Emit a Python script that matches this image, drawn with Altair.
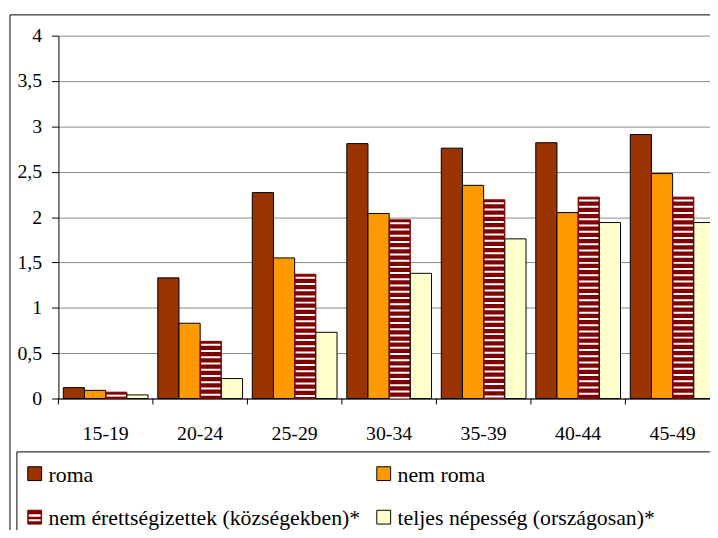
import altair as alt
import pandas as pd

# ---- data ----
ages = ["15-19", "20-24", "25-29", "30-34", "35-39", "40-44", "45-49"]
series = [
    "roma",
    "nem roma",
    "nem érettségizettek (községekben)*",
    "teljes népesség (országosan)*",
]
roma = [0.12, 1.33, 2.27, 2.81, 2.76, 2.82, 2.91]
nem_roma = [0.09, 0.83, 1.55, 2.04, 2.35, 2.05, 2.48]
nem_erett = [0.07, 0.63, 1.37, 1.97, 2.19, 2.22, 2.22]
teljes = [0.04, 0.22, 0.73, 1.38, 1.76, 1.94, 1.94]
y_ticks = [0, 0.5, 1, 1.5, 2, 2.5, 3, 3.5, 4]
colors = ["#993300", "#FF9900", "#800000", "#FFFFCC"]

values_by_series = [roma, nem_roma, nem_erett, teljes]
rows = []
for s, vals in zip(series, values_by_series):
    for a, v in zip(ages, vals):
        rows.append({"age": a, "series": s, "value": v})
df = pd.DataFrame(rows)
ages_df = pd.DataFrame({"age": ages})
leg_df = pd.DataFrame({"series": series, "i": list(range(len(series)))})

STRIPED = series[2]
FONT = ("Liberation Serif, Tinos, Noto Serif, Nimbus Roman, FreeSerif, "
        "DejaVu Serif, Times New Roman, serif")
H = 367
VIEW_W = 659
BAND_RANGE = 669

x_scale = alt.Scale(domain=ages, range=[0, BAND_RANGE], paddingInner=0, paddingOuter=0)
xo_scale = alt.Scale(domain=series, paddingInner=0, paddingOuter=0.23)
y_scale = alt.Scale(domain=[0, 4], nice=False, zero=True)
color_scale = alt.Scale(domain=series, range=colors)

x_axis = alt.Axis(title=None, ticks=False, grid=False, domainColor="black",
                  labelFont=FONT, labelFontSize=20, labelColor="black",
                  labelPadding=25, labelAngle=0)
y_axis = alt.Axis(title=None, values=y_ticks,
                  labelExpr="replace(toString(datum.value), '.', ',')",
                  grid=True, gridColor="#8a8a8a", gridWidth=1,
                  domainColor="black", tickColor="black", tickSize=7,
                  labelFont=FONT, labelFontSize=20, labelColor="black",
                  labelPadding=10)

X = alt.X("age:N", scale=x_scale, axis=x_axis)
XO = alt.XOffset("series:N", scale=xo_scale)
Y = alt.Y("value:Q", scale=y_scale, axis=y_axis)

bars = alt.Chart(df).mark_bar(strokeWidth=1, opacity=1).encode(
    x=X, xOffset=XO, y=Y,
    color=alt.Color("series:N", scale=color_scale, legend=None),
    stroke=alt.condition(alt.datum.series == STRIPED, alt.value("#800000"), alt.value("black")),
)

stripes = alt.Chart(df).transform_filter(alt.datum.series == STRIPED).mark_rule(
    color="white", strokeWidth=19.5, strokeDash=[2, 4.3], strokeDashOffset=3.8
).encode(x=X, xOffset=XO, y=Y, y2=alt.datum(0))

ticks = alt.Chart(ages_df).mark_rule(color="black", strokeWidth=1).encode(
    x=alt.X("age:N", scale=x_scale, axis=x_axis, bandPosition=0),
    y=alt.value(H), y2=alt.value(H + 6),
)

one = alt.Data(values=[{"k": 1}])
frame_left = alt.Chart(one).mark_rule(color="black", strokeWidth=1).encode(
    x=alt.value(-49), y=alt.value(-21), y2=alt.value(700))
frame_top = alt.Chart(one).mark_rule(color="black", strokeWidth=1).encode(
    x=alt.value(-49), x2=alt.value(1000), y=alt.value(-21))
box_left = alt.Chart(one).mark_rule(color="black", strokeWidth=1).encode(
    x=alt.value(-42), y=alt.value(421), y2=alt.value(700))
box_top = alt.Chart(one).mark_rule(color="black", strokeWidth=1).encode(
    x=alt.value(-42), x2=alt.value(1000), y=alt.value(421))

# ---- legend (laid out in two columns inside the box) ----
leg_base = alt.Chart(leg_df).transform_calculate(
    col="datum.i % 2", row="floor(datum.i / 2)"
).transform_calculate(
    sx="-24 + datum.col * 353", sy="443 + datum.row * 44",
    tx="-10 + datum.col * 353",
)
leg_sw = leg_base.mark_square(size=196, opacity=1, strokeWidth=1).encode(
    x=alt.X("sx:Q", scale=None), y=alt.Y("sy:Q", scale=None),
    color=alt.Color("series:N", scale=color_scale, legend=None),
    stroke=alt.condition(alt.datum.series == STRIPED, alt.value("#800000"), alt.value("black")),
)
leg_stripe = leg_base.transform_filter(alt.datum.series == STRIPED).transform_calculate(
    st="datum.sy - 3", sb="datum.sy + 4"
).mark_rule(color="white", strokeWidth=12, strokeDash=[2.5, 2.5, 2, 100]).encode(
    x=alt.X("sx:Q", scale=None), y=alt.Y("st:Q", scale=None), y2=alt.Y2("sb:Q"),
)
leg_txt = leg_base.mark_text(align="left", baseline="middle", font=FONT, fontSize=22,
                             color="black", dy=1).encode(
    x=alt.X("tx:Q", scale=None), y=alt.Y("sy:Q", scale=None), text="series:N",
)

chart = alt.layer(bars, stripes, ticks, frame_left, frame_top, box_left, box_top,
                  leg_sw, leg_stripe, leg_txt).properties(
    width=VIEW_W, height=H,
    padding={"left": 51, "top": 25, "right": 0, "bottom": 130},
    autosize=alt.AutoSizeParams(type="none"),
    background="white",
).configure_view(stroke=None)

chart.save("out.html", embed_options={"renderer": "svg", "actions": False})
